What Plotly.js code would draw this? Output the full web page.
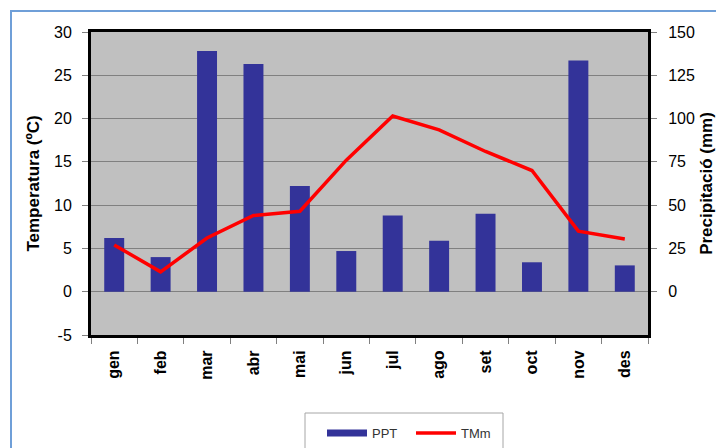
<!DOCTYPE html>
<html>
<head>
<meta charset="utf-8">
<script src="https://cdn.plot.ly/plotly-3.0.1.min.js"></script>
<style>
html,body{margin:0;padding:0;background:#fff;overflow:hidden;}
#chart{width:716px;height:448px;}
</style>
</head>
<body>
<div id="chart"></div>
<script>
const months = ["gen","feb","mar","abr","mai","jun","jul","ago","set","oct","nov","des"];
const ppt = [31, 20, 139, 131.5, 61, 23.5, 44, 29.5, 45, 17, 133.5, 15.2];
const tmm = [5.4, 2.3, 6.2, 8.8, 9.3, 15.2, 20.3, 18.7, 16.2, 14.0, 7.0, 6.1];
const tempTicks = [-5,0,5,10,15,20,25,30];
const tempTickText = ["-5","0","5","10","15","20","25","30"];
const pptTicks = [0,25,50,75,100,125,150];
const pptTickText = ["0","25","50","75","100","125","150"];

const FONT = "Liberation Sans, Arial, sans-serif";
const L = 91, R = 648, T = 32, B = 335;
const px2x = v => (v - L) / (R - L);
const px2y = v => (B - v) / (B - T);

const traces = [
  {type:"bar", x:months, y:ppt, yaxis:"y", name:"PPT", width:0.43,
   marker:{color:"#333399", line:{width:0}}, showlegend:false, hoverinfo:"skip"},
  {type:"scatter", mode:"lines", x:[null], y:[null], yaxis:"y", name:"PPT",
   line:{color:"#333399", width:7}, hoverinfo:"skip"},
  {type:"scatter", mode:"lines", x:months, y:tmm, yaxis:"y2", name:"TMm",
   line:{color:"#ff0000", width:3.5}, hoverinfo:"skip"}
];

const layout = {
  width:716, height:448,
  margin:{l:L, r:716-R, t:T, b:448-B, pad:0, autoexpand:false},
  paper_bgcolor:"#ffffff", plot_bgcolor:"#c0c0c0",
  font:{family:FONT, color:"#000"},
  showlegend:true,
  legend:{orientation:"h", x:px2x(322), y:px2y(418), xanchor:"left", yanchor:"top",
    borderwidth:0, bgcolor:"rgba(0,0,0,0)",
    font:{family:FONT, size:13, color:"#333"}, entrywidth:34, entrywidthmode:"pixels",
    itemwidth:40},
  xaxis:{type:"category", showline:true, linecolor:"#000", linewidth:3, mirror:true,
    ticks:"outside", tickson:"boundaries", ticklen:6, tickcolor:"#808080", tickwidth:1,
    tickangle:-90, tickfont:{family:FONT, size:16, color:"#000", weight:"bold"},
    ticklabelstandoff:6, showgrid:false, zeroline:false, fixedrange:true},
  yaxis:{side:"right", range:[-25,150], tickvals:pptTicks, ticktext:pptTickText,
    showgrid:true, gridcolor:"#808080", gridwidth:1, zeroline:false,
    showline:true, linecolor:"#000", linewidth:3, mirror:true,
    ticks:"outside", ticklen:6, tickcolor:"#808080",
    ticklabelstandoff:8,
    tickfont:{family:FONT, size:16, color:"#000"},
    title:{text:"Precipitació (mm)", font:{family:FONT, size:17, color:"#000", weight:"bold"}, standoff:9},
    fixedrange:true},
  yaxis2:{overlaying:"y", side:"left", range:[-5,30], tickvals:tempTicks, ticktext:tempTickText,
    showgrid:false, zeroline:false, showline:true, linecolor:"#000", linewidth:3,
    ticks:"outside", ticklen:6, tickcolor:"#808080",
    ticklabelstandoff:7,
    tickfont:{family:FONT, size:16, color:"#000"},
    title:{text:"Temperatura (ºC)", font:{family:FONT, size:17, color:"#000", weight:"bold"}, standoff:11},
    fixedrange:true},
  shapes:[
    {type:"rect", xref:"paper", yref:"paper", layer:"below",
     x0:px2x(11), x1:px2x(760), y0:px2y(480), y1:px2y(11),
     line:{color:"#6f9fd8", width:2}, fillcolor:"rgba(0,0,0,0)"},
    {type:"rect", xref:"paper", yref:"paper", layer:"below",
     x0:px2x(305), x1:px2x(503), y0:px2y(470), y1:px2y(413),
     line:{color:"#a6a6a6", width:1}, fillcolor:"rgba(0,0,0,0)"}
  ]
};

Plotly.newPlot("chart", traces, layout, {staticPlot:true, displayModeBar:false});
</script>
</body>
</html>
